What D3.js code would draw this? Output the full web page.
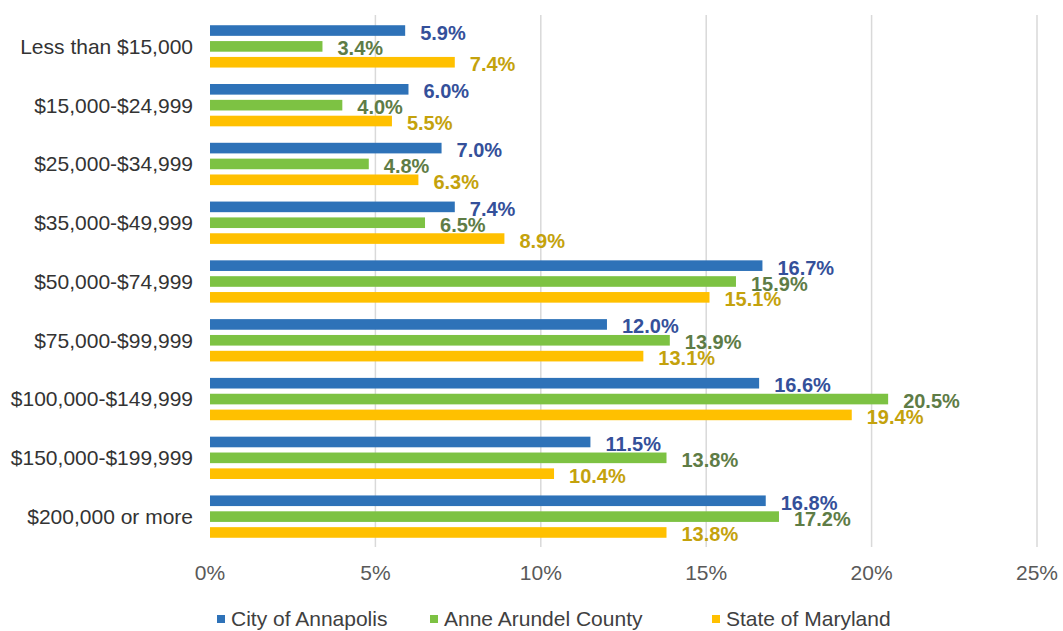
<!DOCTYPE html>
<html>
<head>
    <meta charset="utf-8">
    <title>Household income distribution</title>
    <script src="https://unpkg.com/d3@7.8.2/dist/d3.min.js"></script>
    <style>
        body { margin: 0; background: #fff; }
        text { font-family: "Liberation Sans", Arial, sans-serif; }
    </style>
</head>
<body>
    <div id="chart"></div>
    <script>
        // income brackets, top to bottom
        const categories = [
            "Less than $15,000", "$15,000-$24,999", "$25,000-$34,999", "$35,000-$49,999",
            "$50,000-$74,999", "$75,000-$99,999", "$100,000-$149,999", "$150,000-$199,999",
            "$200,000 or more"
        ];
        const seriesNames = ["City of Annapolis", "Anne Arundel County", "State of Maryland"];
        const annapolis = [5.9, 6.0, 7.0, 7.4, 16.7, 12.0, 16.6, 11.5, 16.8];
        const anneArundel = [3.4, 4.0, 4.8, 6.5, 15.9, 13.9, 20.5, 13.8, 17.2];
        const maryland = [7.4, 5.5, 6.3, 8.9, 15.1, 13.1, 19.4, 10.4, 13.8];
        const xTicks = [0, 5, 10, 15, 20, 25];

        const barColors = ["#2E72B8", "#7DC243", "#FFC000"];
        const labelColors = ["#34509A", "#5E7C46", "#C4A20C"];

        const width = 1063, height = 631;
        const margin = { top: 17, right: 26, bottom: 85, left: 210 };

        const svg = d3.select("#chart").append("svg")
            .attr("width", width)
            .attr("height", height);

        const x = d3.scaleLinear()
            .domain([0, 25])
            .range([margin.left, width - margin.right]);

        const y = d3.scaleBand()
            .domain(categories)
            .range([margin.top, height - margin.bottom])
            .paddingInner(0.28)
            .paddingOuter(0.14);

        const inner = d3.scaleBand()
            .domain(seriesNames)
            .range([0, y.bandwidth()])
            .paddingInner(0.33);

        // gridlines
        svg.append("g")
            .selectAll("line")
            .data(xTicks.slice(1))
            .join("line")
            .attr("x1", d => x(d))
            .attr("x2", d => x(d))
            .attr("y1", margin.top - 2)
            .attr("y2", height - margin.bottom + 1)
            .attr("stroke", "#d9d9d9")
            .attr("stroke-width", 1.5);

        // x tick labels
        svg.append("g")
            .selectAll("text")
            .data(xTicks)
            .join("text")
            .attr("x", d => x(d))
            .attr("y", 580)
            .attr("text-anchor", "middle")
            .attr("font-size", 21)
            .attr("fill", "#595959")
            .text(d => d + "%");

        // category labels
        svg.append("g")
            .selectAll("text")
            .data(categories)
            .join("text")
            .attr("x", 193)
            .attr("y", d => y(d) + y.bandwidth() / 2)
            .attr("dy", "0.35em")
            .attr("text-anchor", "end")
            .attr("font-size", 21)
            .attr("fill", "#333")
            .text(d => d);

        const series = [annapolis, anneArundel, maryland];
        const rows = [];
        series.forEach((vals, s) => {
            vals.forEach((v, i) => rows.push({ s, cat: categories[i], v }));
        });

        // bars
        svg.append("g")
            .selectAll("rect")
            .data(rows)
            .join("rect")
            .attr("x", x(0))
            .attr("y", d => y(d.cat) + inner(seriesNames[d.s]))
            .attr("width", d => x(d.v) - x(0))
            .attr("height", inner.bandwidth())
            .attr("fill", d => barColors[d.s]);

        // value labels
        svg.append("g")
            .selectAll("text")
            .data(rows)
            .join("text")
            .attr("x", d => x(d.v) + 15)
            .attr("y", d => y(d.cat) + inner(seriesNames[d.s]) + inner.bandwidth() / 2 + 2)
            .attr("dy", "0.35em")
            .attr("font-size", 20)
            .attr("font-weight", "bold")
            .attr("fill", d => labelColors[d.s])
            .text(d => d.v.toFixed(1) + "%");

        // legend
        const legendX = [217, 430, 712];
        const legend = svg.append("g")
            .selectAll("g")
            .data(seriesNames)
            .join("g")
            .attr("transform", (d, i) => `translate(${legendX[i]},619)`);
        legend.append("rect")
            .attr("x", 0)
            .attr("y", -4)
            .attr("width", 8)
            .attr("height", 8)
            .attr("fill", (d, i) => barColors[i]);
        legend.append("text")
            .attr("x", 14)
            .attr("dy", "0.35em")
            .attr("font-size", 21)
            .attr("fill", "#404040")
            .text(d => d);
    </script>
</body>
</html>
